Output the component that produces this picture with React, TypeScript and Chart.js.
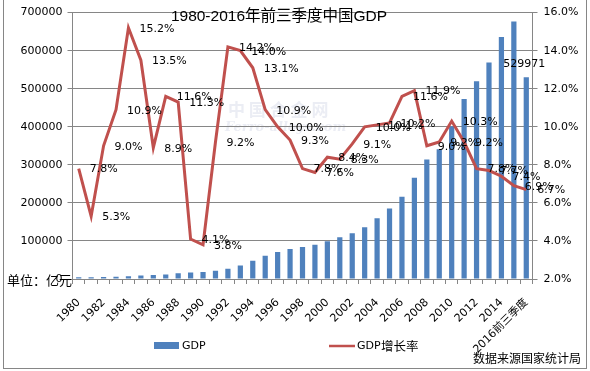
import React, { useEffect, useRef } from "react";
import { Chart, registerables } from "chart.js";

Chart.register(...registerables);

const categories = [
  "1980", "1981", "1982", "1983", "1984", "1985", "1986", "1987", "1988", "1989",
  "1990", "1991", "1992", "1993", "1994", "1995", "1996", "1997", "1998", "1999",
  "2000", "2001", "2002", "2003", "2004", "2005", "2006", "2007", "2008", "2009",
  "2010", "2011", "2012", "2013", "2014", "2015", "2016前三季度",
];

const gdpValues = [
  4545.6, 4891.6, 5323.4, 5962.7, 7208.1, 9016.0, 10275.2, 12058.6, 15042.8, 16992.3,
  18667.8, 21781.5, 26923.5, 35333.9, 48197.9, 60793.7, 71176.6, 78973.0, 84402.3, 89677.1,
  99214.6, 109655.2, 120332.7, 135822.8, 159878.3, 184937.4, 216314.4, 265810.3, 314045.4, 340902.8,
  401512.8, 473104.0, 519470.1, 568845.2, 636138.7, 676708.0, 529971,
];

const growthRates = [
  7.8, 5.3, 9.0, 10.9, 15.2, 13.5, 8.9, 11.6, 11.3, 4.1,
  3.8, 9.2, 14.2, 14.0, 13.1, 10.9, 10.0, 9.3, 7.8, 7.6,
  8.4, 8.3, 9.1, 10.0, 10.1, 10.2, 11.6, 11.9, 9.0, 9.2,
  10.3, 9.2, 7.8, 7.7, 7.4, 6.9, 6.7,
];

const titleText = "1980-2016年前三季度中国GDP";
const unitText = "单位：亿元";
const sourceText = "数据来源国家统计局";
const legendBar = "GDP";
const legendLineLatin = "GDP";
const legendLineCjk = "增长率";

const BLUE = "#4F81BD";
const RED = "#C0504D";
const GRAY = "#868686";
const TICK_FONT = { family: "'DejaVu Sans', 'Noto Sans CJK SC'", size: 11 };

const overlayPlugin = {
  id: "overlay",
  beforeDraw(chart: any) {
    const ctx = chart.ctx;
    ctx.save();
    ctx.globalAlpha = 0.35;
    ctx.fillStyle = "#c5cbe0";
    ctx.font = "bold 17px 'Noto Sans CJK SC'";
    ctx.textBaseline = "middle";
    ctx.textAlign = "left";
    ctx.fillText("中 国 合 金 网", 228, 110);
    ctx.font = "italic bold 13px 'DejaVu Serif'";
    ctx.fillText("Ferro-alloys.com", 225, 128);
    ctx.restore();
  },
  afterDatasetsDraw(chart: any) {
    const ctx = chart.ctx;
    ctx.save();
    ctx.fillStyle = "#000";
    ctx.font = "11px 'DejaVu Sans'";
    ctx.textBaseline = "middle";
    ctx.textAlign = "left";
    const lineMeta = chart.getDatasetMeta(1);
    lineMeta.data.forEach((pt: any, i: number) => {
      ctx.fillText(growthRates[i].toFixed(1) + "%", pt.x + 11, pt.y + 1);
    });
    const barMeta = chart.getDatasetMeta(0);
    const lastIdx = barMeta.data.length - 1;
    const last = barMeta.data[lastIdx];
    ctx.textAlign = "center";
    ctx.fillText(String(gdpValues[lastIdx]), last.x - 2, last.y - 13);
    ctx.restore();
  },
  afterDraw(chart: any) {
    const ctx = chart.ctx;
    ctx.save();
    ctx.strokeStyle = GRAY;
    ctx.lineWidth = 1;
    ctx.strokeRect(3.5, -0.5, 583, 369);
    ctx.fillStyle = "#000";
    ctx.textBaseline = "middle";
    // title
    ctx.textAlign = "center";
    ctx.font = "15.5px 'Liberation Sans', 'Noto Sans CJK SC'";
    ctx.fillText(titleText, 279, 17);
    // unit
    ctx.textAlign = "left";
    ctx.font = "13px 'Noto Sans CJK SC'";
    ctx.fillText(unitText, 7, 280);
    // legend
    ctx.fillStyle = BLUE;
    ctx.fillRect(154, 342, 25, 7);
    ctx.strokeStyle = RED;
    ctx.lineWidth = 2.5;
    ctx.beginPath();
    ctx.moveTo(329, 346);
    ctx.lineTo(355, 346);
    ctx.stroke();
    ctx.fillStyle = "#000";
    ctx.font = "11px 'DejaVu Sans'";
    ctx.fillText(legendBar, 182, 346);
    ctx.fillText(legendLineLatin, 357, 346);
    ctx.font = "12.5px 'Noto Sans CJK SC'";
    ctx.fillText(legendLineCjk, 381, 346);
    // source
    ctx.textAlign = "right";
    ctx.font = "12px 'Noto Sans CJK SC'";
    ctx.fillText(sourceText, 581, 358);
    ctx.restore();
  },
};

export default function App() {
  const canvasRef = useRef<HTMLCanvasElement | null>(null);

  useEffect(() => {
    const canvas = canvasRef.current;
    if (!canvas) return;
    const chart = new Chart(canvas, {
      type: "bar",
      data: {
        labels: categories,
        datasets: [
          {
            type: "bar",
            label: legendBar,
            data: gdpValues,
            backgroundColor: BLUE,
            yAxisID: "y",
            barPercentage: 0.42,
            categoryPercentage: 1,
            order: 2,
          },
          {
            type: "line",
            label: legendLineLatin + legendLineCjk,
            data: growthRates,
            borderColor: RED,
            backgroundColor: RED,
            borderWidth: 3,
            pointRadius: 0,
            tension: 0,
            yAxisID: "y1",
            order: 1,
          } as any,
        ],
      },
      options: {
        responsive: false,
        animation: false,
        devicePixelRatio: 1,
        layout: { padding: { left: 0, right: 0, top: 10, bottom: 0 } },
        plugins: {
          legend: { display: false },
          title: { display: false },
          tooltip: { enabled: false },
        },
        scales: {
          x: {
            offset: true,
            grid: {
              offset: true,
              drawOnChartArea: false,
              drawTicks: true,
              tickLength: 5,
              color: GRAY,
            },
            border: { display: true, color: GRAY },
            ticks: {
              autoSkip: false,
              maxRotation: 45,
              minRotation: 45,
              padding: 12,
              color: "#000",
              font: TICK_FONT,
              callback: (_v: any, i: number) => (i % 2 === 0 ? categories[i] : ""),
            },
            afterFit: (scale: any) => {
              scale.height = 92;
            },
          },
          y: {
            position: "left",
            min: 0,
            max: 700000,
            grid: { color: GRAY, tickLength: 5 },
            border: { display: true, color: GRAY },
            ticks: {
              stepSize: 100000,
              color: "#000",
              font: TICK_FONT,
              padding: 5,
              callback: (v: any) => String(v),
            },
            afterFit: (scale: any) => {
              scale.width = 72.5;
            },
          },
          y1: {
            position: "right",
            min: 2,
            max: 16,
            grid: { drawOnChartArea: false, tickLength: 5, color: GRAY },
            border: { display: true, color: GRAY },
            ticks: {
              stepSize: 2,
              color: "#000",
              font: TICK_FONT,
              padding: 6,
              callback: (v: any) => Number(v).toFixed(1) + "%",
            },
            afterFit: (scale: any) => {
              scale.width = 57.5;
            },
          },
        },
      },
      plugins: [overlayPlugin],
    } as any);
    return () => chart.destroy();
  }, []);

  return (
    <div style={{ position: "absolute", left: 0, top: 0, width: 590, height: 371, background: "#fff" }}>
      <canvas ref={canvasRef} width={590} height={371} style={{ display: "block" }} />
    </div>
  );
}
